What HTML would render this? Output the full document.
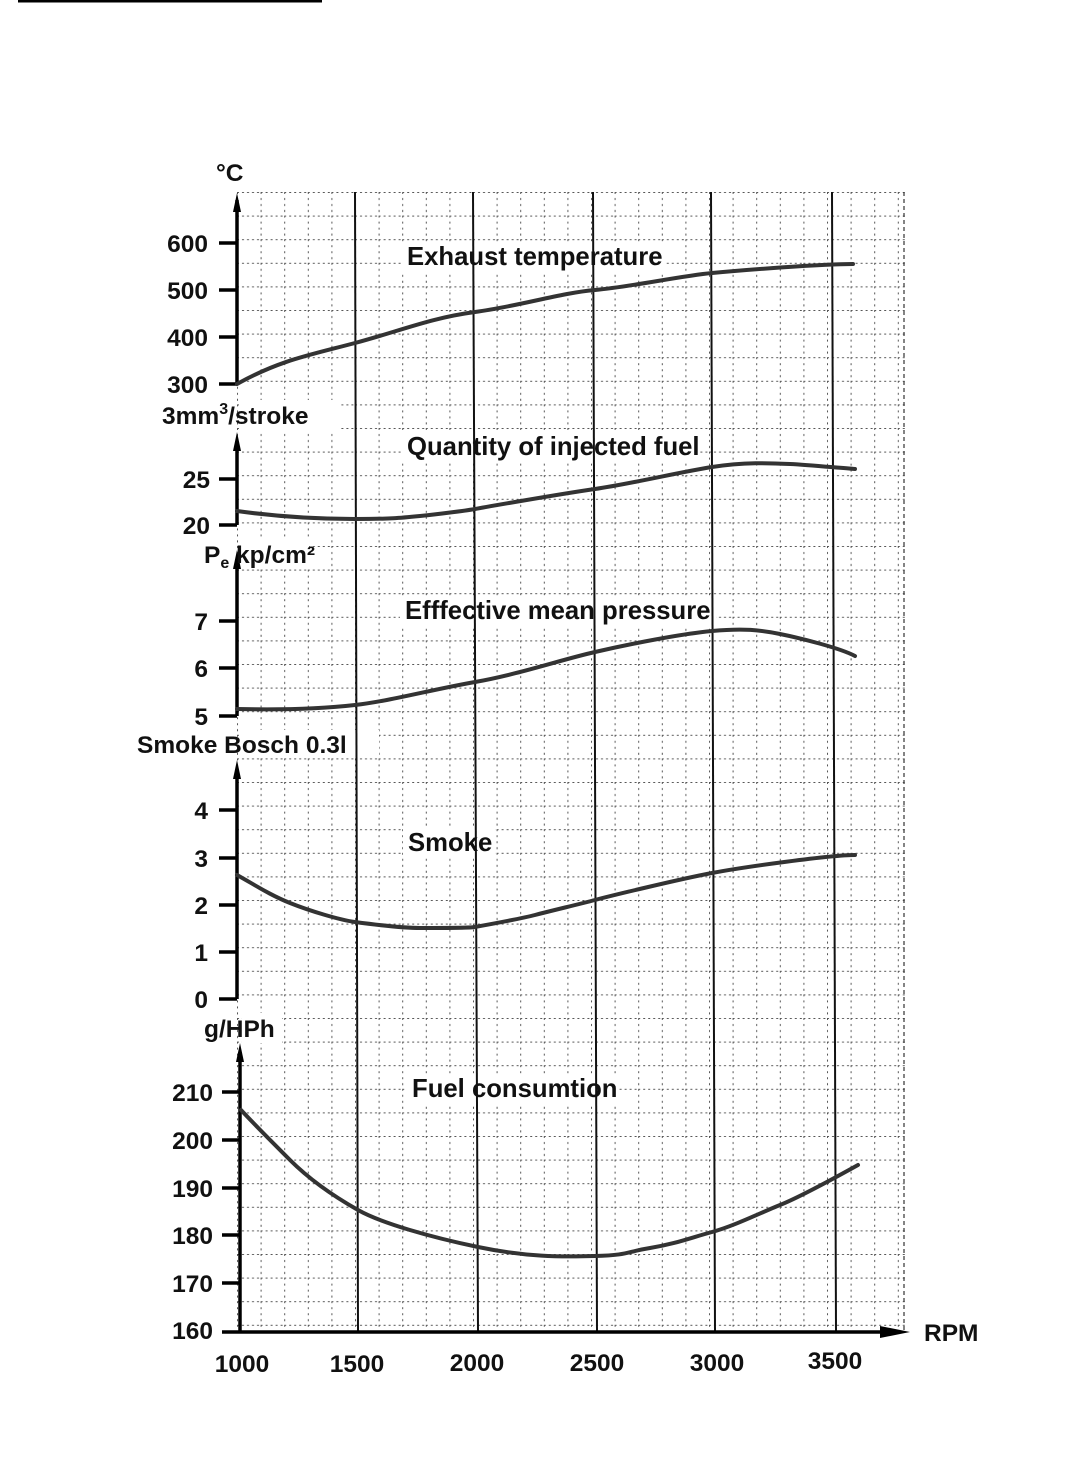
<!DOCTYPE html>
<html><head><meta charset="utf-8"><style>
html,body{margin:0;padding:0;background:#fff;}
svg{display:block;}
text{font-family:"Liberation Sans",Arial,sans-serif;font-weight:bold;fill:#111;}
</style></head><body>
<svg width="1079" height="1466" viewBox="0 0 1079 1466" xmlns="http://www.w3.org/2000/svg">
<defs>
<pattern id="g" x="237" y="192" width="23.6" height="23.6" patternUnits="userSpaceOnUse">
<line x1="0" y1="0.5" x2="23.6" y2="0.5" stroke="#555" stroke-width="1" stroke-dasharray="2,3"/>
<line x1="0.5" y1="0" x2="0.5" y2="23.6" stroke="#555" stroke-width="1" stroke-dasharray="2,4"/>
</pattern>
</defs>
<rect x="0" y="0" width="1079" height="1466" fill="#fff"/>
<rect x="18" y="0" width="304" height="2.5" fill="#000"/>
<rect x="237" y="192" width="668" height="1140" fill="url(#g)"/>
<line x1="904" y1="192" x2="904" y2="1332" stroke="#333" stroke-width="1.2" stroke-dasharray="4,3"/>
<!-- white label backgrounds (under solid lines) -->
<g fill="#fff">
<rect x="402" y="242" width="264" height="30"/>
<rect x="402" y="432" width="298" height="30"/>
<rect x="400" y="596" width="316" height="30"/>
<rect x="403" y="828" width="92" height="30"/>
<rect x="407" y="1074" width="212" height="30"/>
<rect x="239" y="400" width="100" height="30"/>
<rect x="239" y="730" width="140" height="28"/>
<rect x="239" y="540" width="70" height="28"/>
<rect x="242" y="1013" width="40" height="30"/>
</g>
<g stroke="#111" stroke-width="2">
<line x1="355" y1="192" x2="358" y2="1332"/>
<line x1="473" y1="192" x2="478" y2="1332"/>
<line x1="593" y1="192" x2="597" y2="1332"/>
<line x1="711" y1="192" x2="715" y2="1332"/>
<line x1="832" y1="192" x2="836" y2="1332"/>
</g>
<!-- axes -->
<g stroke="#000" stroke-width="3.5" fill="none">
<line x1="237" y1="200" x2="237" y2="385"/>
<line x1="237" y1="442" x2="237" y2="525"/>
<line x1="237" y1="560" x2="237" y2="716"/>
<line x1="237" y1="770" x2="237" y2="999"/>
<line x1="240" y1="1052" x2="240" y2="1332"/>
<line x1="222" y1="1332" x2="890" y2="1332"/>
<line x1="219" y1="243" x2="237" y2="243"/><line x1="219" y1="290" x2="237" y2="290"/><line x1="219" y1="337" x2="237" y2="337"/><line x1="219" y1="384" x2="237" y2="384"/>
<line x1="219" y1="479" x2="237" y2="479"/><line x1="219" y1="525" x2="237" y2="525"/>
<line x1="219" y1="621" x2="237" y2="621"/><line x1="219" y1="668" x2="237" y2="668"/><line x1="219" y1="716" x2="237" y2="716"/>
<line x1="219" y1="810" x2="237" y2="810"/><line x1="219" y1="858" x2="237" y2="858"/><line x1="219" y1="905" x2="237" y2="905"/><line x1="219" y1="952" x2="237" y2="952"/><line x1="219" y1="999" x2="237" y2="999"/>
<line x1="222" y1="1092" x2="240" y2="1092"/><line x1="222" y1="1140" x2="240" y2="1140"/><line x1="222" y1="1188" x2="240" y2="1188"/><line x1="222" y1="1235" x2="240" y2="1235"/><line x1="222" y1="1283" x2="240" y2="1283"/>
</g>
<g fill="#000">
<polygon points="237,193 233,212 241,212"/>
<polygon points="237,432 233,451 241,451"/>
<polygon points="237,550 233,569 241,569"/>
<polygon points="237,760 233,779 241,779"/>
<polygon points="240,1043 236,1062 244,1062"/>
<polygon points="910,1332 880,1326 880,1338"/>
</g>
<!-- curves -->
<g stroke="#333" stroke-width="4" fill="none" stroke-linecap="round">
<path d="M237,384 C280,360 310,355 355,343 S430,318 475,312 S560,293 595,290 S680,276 712,273 S820,264 853,264"/>
<path d="M237,511 C280,517 320,519 355,519 S400,518 420,516 S470,510 475,509 S560,494 595,489 S680,472 712,467 S770,463 790,464 S840,468 855,469"/>
<path d="M237,709 C280,710 320,709 355,705 S430,690 475,682 S560,660 595,652 S680,634 712,631 S760,630 780,634 S840,648 855,656"/>
<path d="M237,875 C255,885 270,895 290,903 S340,920 355,922 S400,928 420,928 S470,928 475,927 S520,919 535,915 S580,904 595,900 S680,879 712,873 S830,855 855,855"/>
<path d="M241,1110 C255,1125 270,1140 290,1160 S335,1197 358,1210 S430,1237 478,1247 S560,1257 595,1256 S625,1252 650,1248 S690,1238 712,1232 S760,1213 780,1205 S840,1175 858,1165"/>
</g>
<!-- labels -->
<g font-size="25.7">
<text x="407" y="265">Exhaust temperature</text>
<text x="407" y="455">Quantity of injected fuel</text>
<text x="405" y="619">Efffective mean pressure</text>
<text x="408" y="851">Smoke</text>
<text x="412" y="1097">Fuel consumtion</text>
</g>
<g font-size="24.5">
<text x="216" y="181">°C</text>
<text x="162" y="424">3mm<tspan dy="-10" font-size="16">3</tspan><tspan dy="10">/stroke</tspan></text>
<text x="204" y="563">P<tspan dy="5" font-size="16">e</tspan><tspan dy="-5"> kp/cm²</tspan></text>
<text x="137" y="753">Smoke Bosch 0.3l</text>
<text x="204" y="1037">g/HPh</text>
<text x="924" y="1341">RPM</text>
</g>
<g font-size="24.5" text-anchor="end">
<text x="208" y="252">600</text><text x="208" y="299">500</text><text x="208" y="346">400</text><text x="208" y="393">300</text>
<text x="210" y="488">25</text><text x="210" y="534">20</text>
<text x="208" y="630">7</text><text x="208" y="677">6</text><text x="208" y="725">5</text>
<text x="208" y="819">4</text><text x="208" y="867">3</text><text x="208" y="914">2</text><text x="208" y="961">1</text><text x="208" y="1008">0</text>
<text x="213" y="1101">210</text><text x="213" y="1149">200</text><text x="213" y="1197">190</text><text x="213" y="1244">180</text><text x="213" y="1292">170</text><text x="213" y="1339">160</text>
</g>
<g font-size="24.5" text-anchor="middle">
<text x="242" y="1372">1000</text><text x="357" y="1372">1500</text><text x="477" y="1371">2000</text><text x="597" y="1371">2500</text><text x="717" y="1371">3000</text><text x="835" y="1369">3500</text>
</g>
</svg>
</body></html>
